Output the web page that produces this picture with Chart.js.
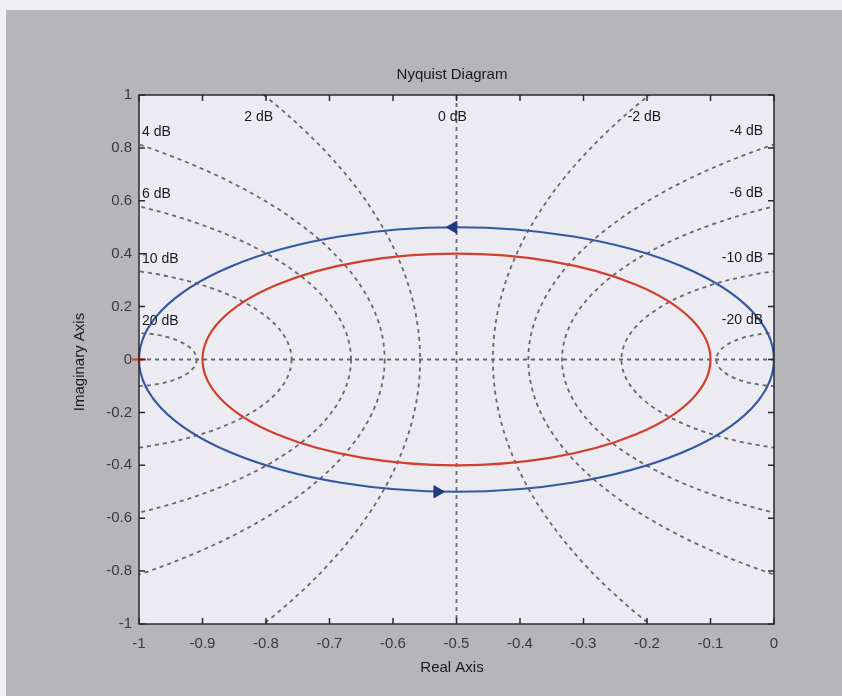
<!DOCTYPE html>
<html lang="en">
<head>
    <meta charset="UTF-8">
    <title>Nyquist Diagram</title>
    <script src="https://cdn.jsdelivr.net/npm/chart.js"></script>
    <style>
        html, body { margin: 0; padding: 0; background: #eeeef0; }
        #wrap { width: 842px; height: 696px; }
    </style>
</head>
<body>
    <div id="wrap"><canvas id="nyquist" width="842" height="696"></canvas></div>
    <script>
        // M-circle grid levels (dB)
        const dbLevels = [-20, -10, -6, -4, -2, 0, 2, 4, 6, 10, 20];

        // Nyquist curves: center on real axis + radius
        const curveNames = ["outer", "inner"];
        const curveCenters = [-0.5, -0.5];
        const curveRadii = [0.5, 0.4];
        const curveColors = ["#3658a0", "#d0402f"];

        // direction arrows on the outer curve
        const arrowX = [-0.505, -0.53];
        const arrowY = [0.5, -0.5];
        const arrowRot = [-90, 90];

        // critical point
        const critX = [-1];
        const critY = [0];

        const xMin = -1, xMax = 0, xStep = 0.1;
        const yMin = -1, yMax = 1, yStep = 0.2;

        const FONT = "'Liberation Sans', Arial, sans-serif";

        // circle for a given dB level: |G/(1+G)| = M
        function mCircle(db) {
            const m = Math.pow(10, db / 20);
            const m2 = m * m;
            return { c: -m2 / (m2 - 1), r: Math.abs(m / (m2 - 1)) };
        }

        function ellipsePath(ctx, xs, ys, c, r) {
            const cx = xs.getPixelForValue(c);
            const cy = ys.getPixelForValue(0);
            const rx = Math.abs(xs.getPixelForValue(c + r) - cx);
            const ry = Math.abs(cy - ys.getPixelForValue(r));
            ctx.beginPath();
            ctx.ellipse(cx, cy, rx, ry, 0, 0, Math.PI * 2);
        }

        // MATLAB style labels: 1, 0.8, 0, -1
        function tickText(v) {
            return String(Number(v.toFixed(2)));
        }

        const nyquistPlugin = {
            id: "nyquist",
            beforeDraw(chart) {
                const ctx = chart.ctx;
                const a = chart.chartArea;
                ctx.save();
                ctx.fillStyle = "#f0f0f2";
                ctx.fillRect(0, 0, chart.width, chart.height);
                ctx.fillStyle = "#b6b5ba";
                ctx.fillRect(6, 10, chart.width - 6, chart.height - 10);
                ctx.fillStyle = "#ecebf1";
                ctx.fillRect(a.left, a.top, a.right - a.left, a.bottom - a.top);
                ctx.restore();
            },
            beforeDatasetsDraw(chart) {
                const ctx = chart.ctx;
                const a = chart.chartArea;
                const xs = chart.scales.x, ys = chart.scales.y;
                ctx.save();
                ctx.beginPath();
                ctx.rect(a.left, a.top, a.right - a.left, a.bottom - a.top);
                ctx.clip();

                // dB grid
                ctx.strokeStyle = "#68686c";
                ctx.lineWidth = 1.8;
                ctx.setLineDash([4, 4]);
                dbLevels.forEach(db => {
                    if (db === 0) {
                        const px = xs.getPixelForValue(-0.5);
                        ctx.beginPath();
                        ctx.moveTo(px, a.top);
                        ctx.lineTo(px, a.bottom);
                        ctx.stroke();
                    } else {
                        const mc = mCircle(db);
                        ellipsePath(ctx, xs, ys, mc.c, mc.r);
                        ctx.stroke();
                    }
                });
                const py0 = ys.getPixelForValue(0);
                ctx.beginPath();
                ctx.moveTo(a.left, py0);
                ctx.lineTo(a.right, py0);
                ctx.stroke();
                ctx.setLineDash([]);

                // Nyquist curves
                curveNames.forEach((n, i) => {
                    ctx.strokeStyle = curveColors[i];
                    ctx.lineWidth = 2.2;
                    ellipsePath(ctx, xs, ys, curveCenters[i], curveRadii[i]);
                    ctx.stroke();
                });
                ctx.restore();

                // dB labels where each circle leaves the axes
                ctx.save();
                ctx.fillStyle = "#1a1a1e";
                ctx.font = "14px " + FONT;
                ctx.textBaseline = "middle";
                dbLevels.forEach(db => {
                    const label = db + " dB";
                    if (db === 0) {
                        ctx.textAlign = "center";
                        ctx.fillText(label, xs.getPixelForValue(-0.5) - 4, a.top + 22);
                        return;
                    }
                    const mc = mCircle(db);
                    const edge = db > 0 ? xMin : xMax;
                    const d2 = mc.r * mc.r - (edge - mc.c) * (edge - mc.c);
                    if (d2 > 0 && Math.sqrt(d2) <= yMax) {
                        const py = ys.getPixelForValue(Math.sqrt(d2));
                        if (db > 0) {
                            ctx.textAlign = "left";
                            ctx.fillText(label, a.left + 3, py - 12);
                        } else {
                            ctx.textAlign = "right";
                            ctx.fillText(label, a.right - 11, py - 13);
                        }
                    } else {
                        const dx = Math.sqrt(mc.r * mc.r - yMax * yMax);
                        const xv = db > 0 ? mc.c + dx : mc.c - dx;
                        ctx.textAlign = "center";
                        ctx.fillText(label, xs.getPixelForValue(xv) - 5, a.top + 22);
                    }
                });
                ctx.restore();
            },
            afterDraw(chart) {
                const ctx = chart.ctx;
                const a = chart.chartArea;
                const xs = chart.scales.x, ys = chart.scales.y;
                ctx.save();
                ctx.strokeStyle = "#2a2a2e";
                ctx.lineWidth = 1.5;
                ctx.strokeRect(a.left, a.top, a.right - a.left, a.bottom - a.top);
                const tl = 6;
                ctx.beginPath();
                xs.ticks.forEach(t => {
                    const px = xs.getPixelForValue(t.value);
                    ctx.moveTo(px, a.bottom); ctx.lineTo(px, a.bottom - tl);
                    ctx.moveTo(px, a.top); ctx.lineTo(px, a.top + tl);
                });
                ys.ticks.forEach(t => {
                    const py = ys.getPixelForValue(t.value);
                    ctx.moveTo(a.left, py); ctx.lineTo(a.left + tl, py);
                    ctx.moveTo(a.right, py); ctx.lineTo(a.right - tl, py);
                });
                ctx.stroke();

                // title and axis labels
                ctx.fillStyle = "#1a1a1e";
                ctx.font = "15px " + FONT;
                ctx.textAlign = "center";
                ctx.textBaseline = "middle";
                ctx.fillText("Nyquist Diagram", 452, 75);
                ctx.fillText("Real Axis", 452, 668);
                ctx.translate(80, 362);
                ctx.rotate(-Math.PI / 2);
                ctx.fillText("Imaginary Axis", 0, 0);
                ctx.restore();
            }
        };

        new Chart(document.getElementById("nyquist"), {
            type: "scatter",
            data: {
                datasets: [
                    {
                        label: "arrows",
                        data: arrowX.map((x, i) => ({ x: x, y: arrowY[i] })),
                        pointStyle: "triangle",
                        rotation: arrowRot,
                        pointRadius: 7,
                        backgroundColor: "#1f3a82",
                        borderColor: "#1f3a82",
                        borderWidth: 1
                    },
                    {
                        label: "critical",
                        data: critX.map((x, i) => ({ x: x, y: critY[i] })),
                        pointStyle: "cross",
                        pointRadius: 7,
                        borderColor: "#d43a30",
                        borderWidth: 2,
                        clip: false
                    }
                ]
            },
            options: {
                responsive: false,
                animation: false,
                layout: { padding: { left: 0, right: 68, top: 95, bottom: 22 } },
                plugins: { legend: { display: false }, tooltip: { enabled: false } },
                scales: {
                    x: {
                        type: "linear",
                        min: xMin, max: xMax,
                        grid: { display: false, drawTicks: false },
                        border: { display: false },
                        ticks: {
                            stepSize: xStep, color: "#3a3a3e", padding: 11,
                            font: { size: 15, family: FONT },
                            callback: v => tickText(v)
                        },
                        afterFit(s) { s.height = 50; }
                    },
                    y: {
                        type: "linear",
                        min: yMin, max: yMax,
                        grid: { display: false, drawTicks: false },
                        border: { display: false },
                        ticks: {
                            stepSize: yStep, color: "#3a3a3e", padding: 7,
                            font: { size: 15, family: FONT },
                            callback: v => tickText(v)
                        },
                        afterFit(s) { s.width = 139; }
                    }
                }
            },
            plugins: [nyquistPlugin]
        });
    </script>
</body>
</html>
